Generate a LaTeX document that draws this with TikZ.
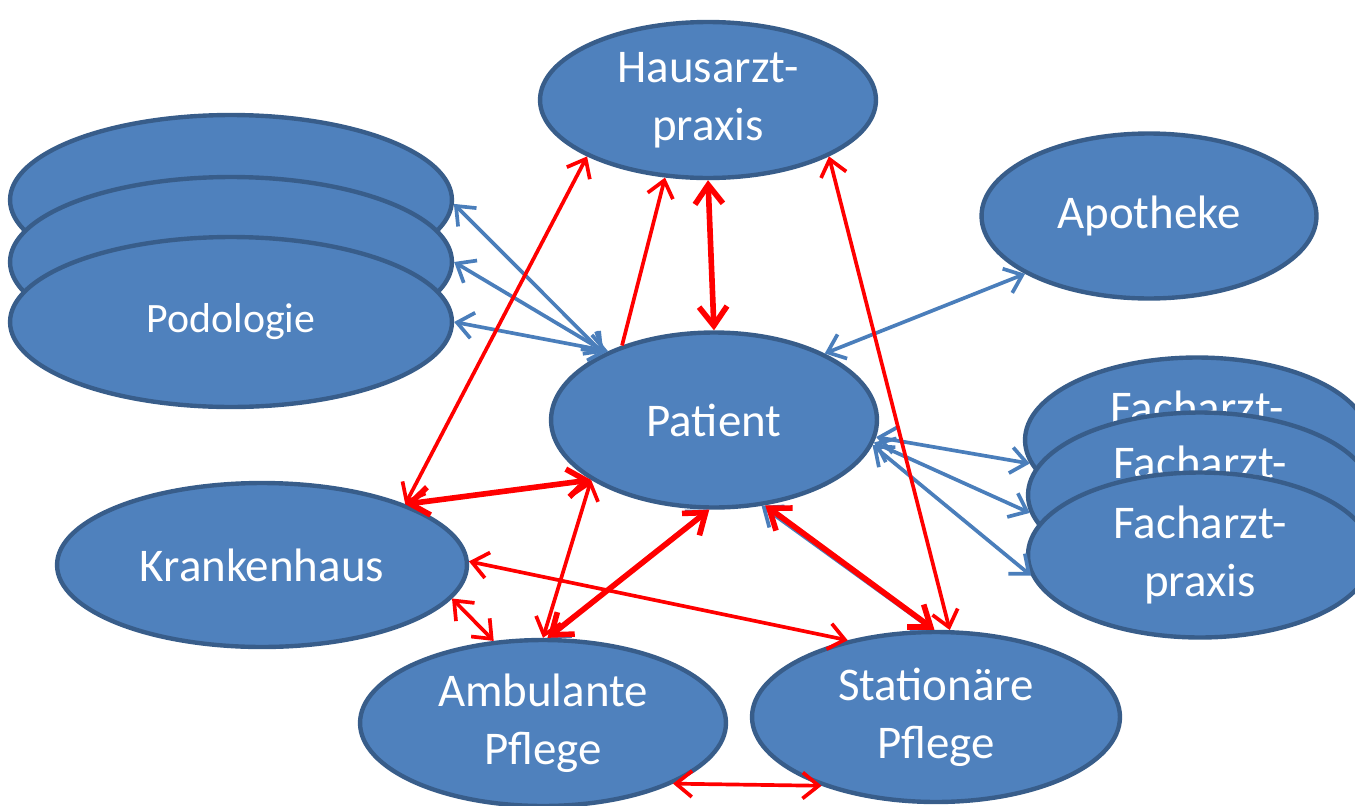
\documentclass[tikz,border=0pt]{standalone}
\usepackage{fontspec}
\setmainfont{Carlito}
\usetikzlibrary{shapes.geometric,arrows.meta}
\definecolor{fuellblau}{HTML}{4F81BD}
\definecolor{randblau}{HTML}{385D8A}
\definecolor{linieblau}{HTML}{4A7EBB}
\begin{document}
\begin{tikzpicture}[x=0.02cm,y=-0.02cm]
	% Stile
	\tikzstyle{knoten}=[ellipse,draw=randblau,fill=fuellblau,line width=2.5pt,text=white,inner sep=0pt,align=center,font=\fontsize{26.7}{33}\selectfont]
	\tikzstyle{pfeil}=[<->,>={Straight Barb[length=0.32cm,width=0.52cm]}]
	\tikzstyle{blau}=[pfeil,draw=linieblau,line width=2.1pt]
	\tikzstyle{rot}=[pfeil,draw=red,line width=2.1pt]
	\tikzstyle{rotdick}=[pfeil,draw=red,line width=3.2pt,>={Straight Barb[length=0.38cm,width=0.56cm]}]
	% Groessen
	\def\BreiteLinks{8.84cm}
	\def\HoeheLinks{3.4cm}
	\def\BreiteFach{6.88cm}
	\def\HoeheFach{3.3cm}
	\useasboundingbox (0,0) rectangle (1355,805);
	% Knoten
	\node[knoten,minimum width=\BreiteLinks,minimum height=\HoeheLinks] (LinksA) at (231,200) {};
	\node[knoten,minimum width=\BreiteLinks,minimum height=\HoeheLinks] (LinksB) at (231,262) {};
	\node[knoten,minimum width=\BreiteLinks,minimum height=\HoeheLinks,font=\fontsize{23.8}{28}\selectfont] (Podo) at (231,322) {Podologie};
	\node[knoten,minimum width=6.72cm,minimum height=3.12cm] (Haus) at (708,100) {Hausarzt-\\praxis};
	\node[knoten,minimum width=6.7cm,minimum height=3.3cm] (Apo) at (1149,216) {Apotheke};
	\node[knoten,minimum width=6.52cm,minimum height=3.5cm] (Pat) at (714,420) {Patient};
	\node[knoten,minimum width=\BreiteFach,minimum height=\HoeheFach] (FachA) at (1197,440) {Facharzt-\\praxis};
	\node[knoten,minimum width=\BreiteFach,minimum height=\HoeheFach] (FachB) at (1200,495) {Facharzt-\\praxis};
	\node[knoten,minimum width=\BreiteFach,minimum height=\HoeheFach] (FachC) at (1200,555) {Facharzt-\\praxis};
	\node[knoten,minimum width=8.2cm,minimum height=3.28cm] (Kranken) at (262,565) {Krankenhaus};
	\node[knoten,minimum width=7.32cm,minimum height=3.32cm] (Amb) at (543,723) {Ambulante\\Pflege};
	\node[knoten,minimum width=7.36cm,minimum height=3.4cm] (Stat) at (936,717) {Stationäre\\Pflege};
	% Pfeile blau
	\draw[blau] (Pat.149) -- (LinksA.-1);
	\draw[blau] (Pat.148) -- (LinksB.0);
	\draw[blau] (Pat.147) -- (Podo.0);
	\draw[blau] (Pat.31) -- (Apo.205);
	\draw[blau] (Pat.-6) -- (FachA.188);
	\draw[blau] (Pat.-8) -- (FachB.186);
	\draw[blau] (Pat.-9) -- (FachC.187);
	\draw[blau] (Pat.266) -- (Amb.86);
	\draw[blau] (Pat.299) -- (Stat.92);
	% Pfeile rot
	\draw[rot] (Kranken.23) -- (Haus.205);
	\draw[rot,<-] (Haus.241) -- (Pat.141);
	\draw[rotdick] (Haus.270) -- (Pat.90);
	\draw[rot] (Haus.335) -- (Stat.81);
	\draw[rotdick] (Kranken.23) -- (Pat.206);
	\draw[rot] (Pat.206) -- (Amb.90);
	\draw[rotdick] (Pat.267) -- (Amb.87);
	\draw[rotdick] (Pat.301) -- (Stat.91);
	\draw[rot] (Kranken.1) -- (Stat.139);
	\draw[rot] (Kranken.-10) -- (Amb.121);
	\draw[rot] (Amb.335) -- (Stat.211);
\end{tikzpicture}
\end{document}
